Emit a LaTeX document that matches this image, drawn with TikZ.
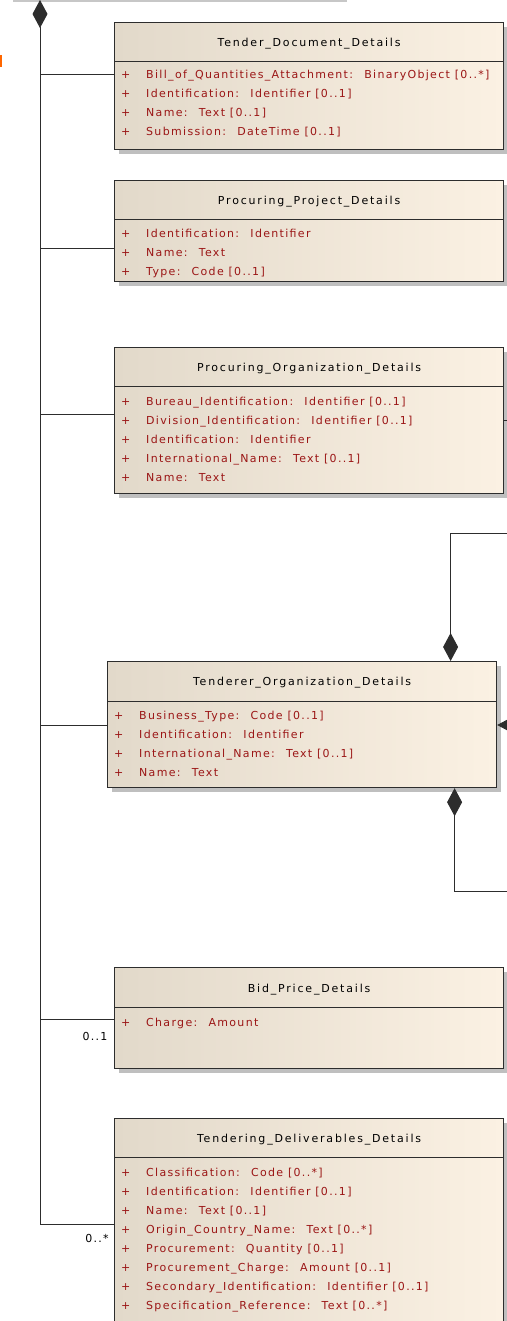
\documentclass[tikz,border=0pt]{standalone}
\usepackage{fontspec}
\newfontfamily\umlfont[LetterSpace=12]{DejaVu Sans}
\newfontfamily\umltitlefont[LetterSpace=16.5]{DejaVu Sans}
\usetikzlibrary{positioning}
\usetikzlibrary{arrows.meta}
\usetikzlibrary{shadows}
\definecolor{umlleft}{RGB}{226,217,202}
\definecolor{umlright}{RGB}{251,241,227}
\definecolor{umlline}{RGB}{45,45,45}
\definecolor{attrred}{RGB}{155,22,22}
\tikzset{umlclass/.style={draw=umlline, line width=1.2pt,
left color=umlleft, right color=umlright,
minimum width=389pt, anchor=north west, inner sep=0pt,
drop shadow={shadow xshift=4pt, shadow yshift=-4pt, fill=black!25, opacity=1}}}

\begin{document}
\begin{tikzpicture}[x=1pt, y=-1pt,
  conn/.style={draw=umlline, line width=1pt},
  umltitle/.style={font=\umltitlefont\fontsize{11}{12}\selectfont, text=black, inner sep=0pt},
  umlattr/.style={font=\umlfont\fontsize{11}{12}\selectfont, text=attrred, anchor=base west, inner sep=0pt},
  mult/.style={font=\umlfont\fontsize{11}{12}\selectfont, text=black, inner sep=0pt},
  comp/.tip={Diamond[length=28pt, width=15pt]}]
\useasboundingbox (0,0) rectangle (506,1321);

% cut-off parts at the top
\fill[black!22] (13,-1) rectangle (347,2.5);
\fill[orange!80!red] (0,55) rectangle (1.5,67);

% Tender document
\node[umlclass, minimum height=127pt] (tdd) at (114,22) {};
\draw[conn] ([yshift=-39.5pt]tdd.north west) -- ([yshift=-39.5pt]tdd.north east);
\node[umltitle] (tdd-title) at ([yshift=-22pt]tdd.north) {Tender\_Document\_Details};
\foreach \txt [count=\i] in {Bill\_of\_Quantities\_Attachment:~ BinaryObject [0..*], Identification:~ Identifier [0..1], Name:~ Text [0..1], Submission:~ DateTime [0..1]}
  \node[umlattr] (tdd-a\i) at ([xshift=7pt, yshift={-57pt-19pt*(\i-1)}]tdd.north west) {\makebox[25pt][l]{+}\txt};

% Procuring project
\node[umlclass, minimum height=101pt] (pps) at (114,180) {};
\draw[conn] ([yshift=-39.5pt]pps.north west) -- ([yshift=-39.5pt]pps.north east);
\node[umltitle] (pps-title) at ([yshift=-22pt]pps.north) {Procuring\_Project\_Details};
\foreach \txt [count=\i] in {Identification:~ Identifier, Name:~ Text, Type:~ Code [0..1]}
  \node[umlattr] (pps-a\i) at ([xshift=7pt, yshift={-58pt-19pt*(\i-1)}]pps.north west) {\makebox[25pt][l]{+}\txt};

% Procuring organization
\node[umlclass, minimum height=146pt] (pod) at (114,347) {};
\draw[conn] ([yshift=-39.5pt]pod.north west) -- ([yshift=-39.5pt]pod.north east);
\node[umltitle] (pod-title) at ([yshift=-22pt]pod.north) {Procuring\_Organization\_Details};
\foreach \txt [count=\i] in {Bureau\_Identification:~ Identifier [0..1], Division\_Identification:~ Identifier [0..1], Identification:~ Identifier, International\_Name:~ Text [0..1], Name:~ Text}
  \node[umlattr] (pod-a\i) at ([xshift=7pt, yshift={-58pt-19pt*(\i-1)}]pod.north west) {\makebox[25pt][l]{+}\txt};

% Tenderer organization
\node[umlclass, minimum height=126pt] (tor) at (107,661) {};
\draw[conn] ([yshift=-40pt]tor.north west) -- ([yshift=-40pt]tor.north east);
\node[umltitle] (tor-title) at ([yshift=-22pt]tor.north) {Tenderer\_Organization\_Details};
\foreach \txt [count=\i] in {Business\_Type:~ Code [0..1], Identification:~ Identifier, International\_Name:~ Text [0..1], Name:~ Text}
  \node[umlattr] (tor-a\i) at ([xshift=7pt, yshift={-58pt-19pt*(\i-1)}]tor.north west) {\makebox[25pt][l]{+}\txt};

% Bid price
\node[umlclass, minimum height=101pt] (bpd) at (114,967) {};
\draw[conn] ([yshift=-40pt]bpd.north west) -- ([yshift=-40pt]bpd.north east);
\node[umltitle] (bpd-title) at ([yshift=-23pt]bpd.north) {Bid\_Price\_Details};
\node[umlattr] (bpd-a1) at ([xshift=7pt, yshift=-59pt]bpd.north west) {\makebox[25pt][l]{+}Charge:~ Amount};

% Tendering deliverables
\node[umlclass, minimum height=212pt] (tdel) at (114,1118) {};
\draw[conn] ([yshift=-39.5pt]tdel.north west) -- ([yshift=-39.5pt]tdel.north east);
\node[umltitle] (tdel-title) at ([yshift=-22pt]tdel.north) {Tendering\_Deliverables\_Details};
\foreach \txt [count=\i] in {Classification:~ Code [0..*], Identification:~ Identifier [0..1], Name:~ Text [0..1], Origin\_Country\_Name:~ Text [0..*], Procurement:~ Quantity [0..1], Procurement\_Charge:~ Amount [0..1], Secondary\_Identification:~ Identifier [0..1], Specification\_Reference:~ Text [0..*]}
  \node[umlattr] (tdel-a\i) at ([xshift=7pt, yshift={-58pt-19pt*(\i-1)}]tdel.north west) {\makebox[25pt][l]{+}\txt};

% composition spine on the left
\coordinate (owner) at (40,0);
\coordinate (spine-end) at (40,1224);
\draw[conn, {comp}-] (owner) -- (spine-end) -- (spine-end -| tdel.west);
\coordinate (j-tdd) at (40,75);
\coordinate (j-pps) at (40,249);
\coordinate (j-pod) at (40,414);
\coordinate (j-tor) at (40,725);
\coordinate (j-bpd) at (40,1019);
\draw[conn] (j-tdd) -- (j-tdd -| tdd.west);
\draw[conn] (j-pps) -- (j-pps -| pps.west);
\draw[conn] (j-pod) -- (j-pod -| pod.west);
\draw[conn] (j-tor) -- (j-tor -| tor.west);
\draw[conn] (j-bpd) -- (j-bpd -| bpd.west);
\node[mult] (bpd-mult) at (95,1036) {0..1};
\node[mult] (tdel-mult) at (97,1238) {0..*};

% links leaving to the right
\coordinate (tor-top) at ([xshift=148.5pt]tor.north);
\coordinate (tor-bot) at ([xshift=152.5pt]tor.south);
\coordinate (r-top) at (516,533);
\coordinate (r-mid) at (516,725);
\coordinate (r-bot) at (516,891);
\coordinate (r-pod) at (516,420);
\draw[conn, -{comp}] (r-top) -- (r-top -| tor-top) -- (tor-top);
\draw[conn, -{comp}] (r-mid) -- (r-mid -| tor.east);
\draw[conn, {comp}-] (tor-bot) -- (tor-bot |- r-bot) -- (r-bot);
\draw[conn] (r-pod -| pod.east) -- (r-pod);
\end{tikzpicture}
\end{document}
